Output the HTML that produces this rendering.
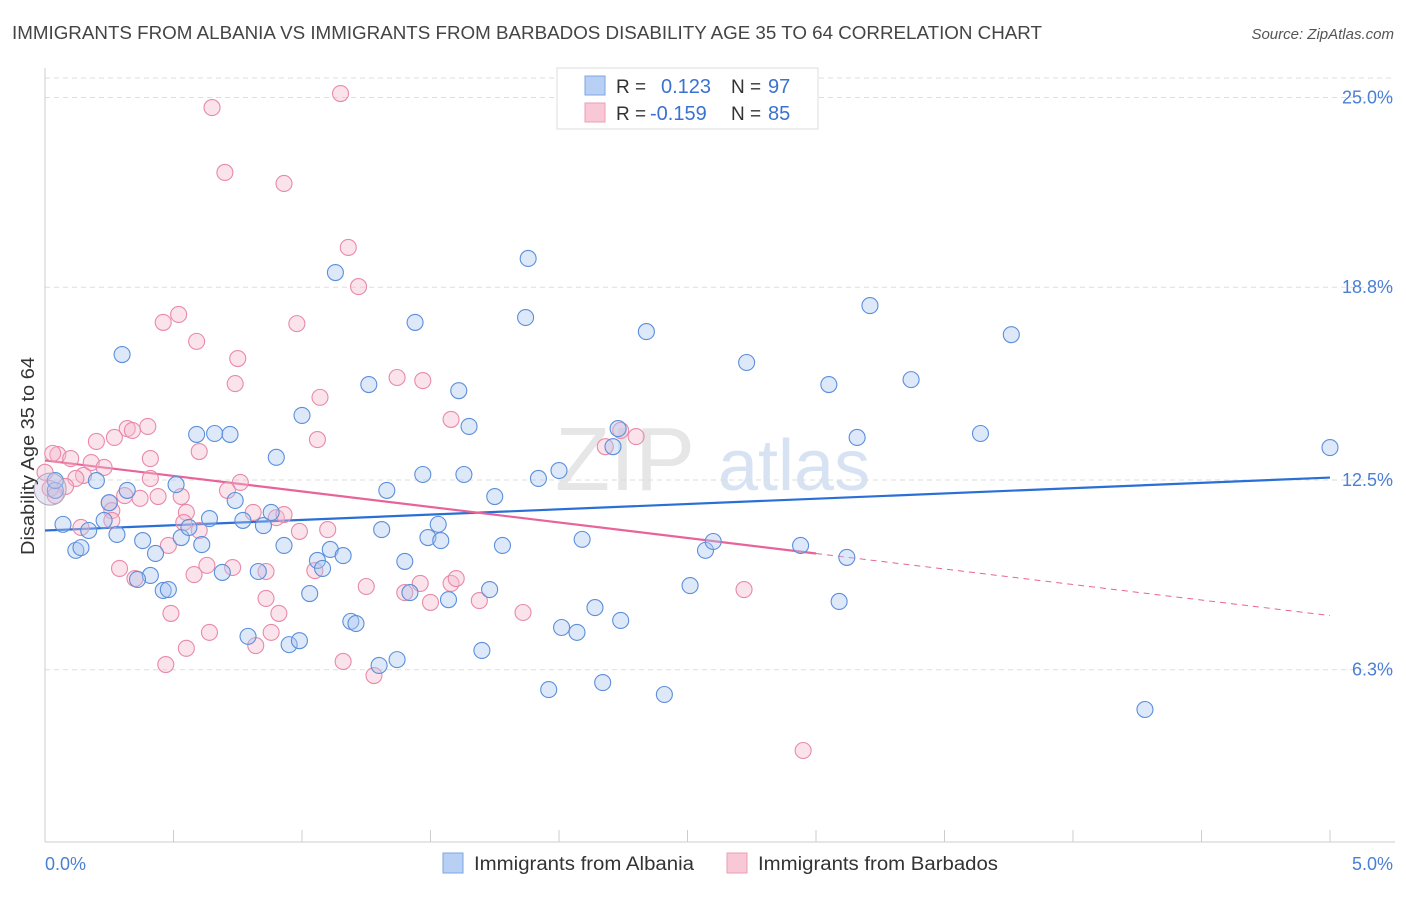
<!DOCTYPE html>
<html><head><meta charset="utf-8"><style>
body{margin:0;background:#fff;font-family:"Liberation Sans",sans-serif;}
svg text{font-family:"Liberation Sans",sans-serif;}
</style></head><body>
<svg id="chart" width="1406" height="892" xmlns="http://www.w3.org/2000/svg">
<text x="12" y="39" font-size="18" fill="#444" textLength="1030" lengthAdjust="spacingAndGlyphs">IMMIGRANTS FROM ALBANIA VS IMMIGRANTS FROM BARBADOS DISABILITY AGE 35 TO 64 CORRELATION CHART</text>
<text x="1394" y="39" font-size="15" fill="#555" text-anchor="end" font-style="italic">Source: ZipAtlas.com</text>
<text x="555" y="490" font-size="90" fill="#e6e6e6" font-family="Liberation Serif">ZIP</text>
<text x="718" y="490" font-size="72" fill="#d7e3f3">atlas</text>
<g id="grid"></g>
<g id="axes"></g>
<g id="lines"></g>
<g id="pts"></g>
<text transform="translate(34,456) rotate(-90)" font-size="18" fill="#333" text-anchor="middle" textLength="198" lengthAdjust="spacingAndGlyphs">Disability Age 35 to 64</text>
<text x="45" y="870" font-size="18" fill="#4a7fd4">0.0%</text>
<text x="1393" y="870" font-size="18" fill="#4a7fd4" text-anchor="end">5.0%</text>
<g>
<rect x="557" y="68" width="261" height="61" fill="#fff" stroke="#ddd"/>
<rect x="585" y="76" width="20" height="19" fill="#b8d0f4" stroke="#7ea6e4"/>
<rect x="585" y="103" width="20" height="19" fill="#f9c8d6" stroke="#ee9cb6"/>
<text x="616" y="93" font-size="19" fill="#333">R =</text>
<text x="661" y="93" font-size="20" fill="#3a72d2">0.123</text>
<text x="731" y="93" font-size="19" fill="#333">N =</text>
<text x="768" y="93" font-size="20" fill="#3a72d2">97</text>
<text x="616" y="120" font-size="19" fill="#333">R =</text>
<text x="650" y="120" font-size="20" fill="#3a72d2">-0.159</text>
<text x="731" y="120" font-size="19" fill="#333">N =</text>
<text x="768" y="120" font-size="20" fill="#3a72d2">85</text>
</g>
<g>
<rect x="443" y="853" width="20" height="20" fill="#b8d0f4" stroke="#7ea6e4"/>
<text x="474" y="870" font-size="19" fill="#333" textLength="220" lengthAdjust="spacingAndGlyphs">Immigrants from Albania</text>
<rect x="727" y="853" width="20" height="20" fill="#f9c8d6" stroke="#ee9cb6"/>
<text x="758" y="870" font-size="19" fill="#333" textLength="240" lengthAdjust="spacingAndGlyphs">Immigrants from Barbados</text>
</g>
</svg>
<script>
const yTicks=[25.0,18.8,12.5,6.3];
const yTickLabels=["25.0%","18.8%","12.5%","6.3%"];
const albaniaX=[.30,1.13,1.88,1.44,1.87,2.34,3.21,3.76,2.73,3.05,3.37,1.26,1.61,1.00,1.65,.59,.66,.72,2.23,2.21,3.16,3.64,5.00,.90,1.47,1.63,2.00,1.92,1.33,1.75,.74,.51,.32,.20,.25,.04,.04,.07,.17,.23,.28,.38,.53,.56,.64,.77,.85,.88,.93,.61,.43,.12,.14,.41,.36,.46,.48,.69,.83,1.03,1.06,1.08,1.11,1.16,1.31,1.40,1.42,1.49,1.53,1.54,1.57,1.73,1.78,2.09,2.57,2.60,2.94,3.12,2.51,2.14,2.24,2.01,2.07,1.19,1.21,.79,.95,.99,1.30,1.37,1.70,1.96,2.17,2.41,3.09,4.28];
const albaniaY=[16.60,19.28,19.74,17.65,17.81,17.35,18.20,17.25,16.34,15.62,15.78,15.62,15.42,14.61,14.25,13.99,14.02,13.99,14.18,13.59,13.89,14.02,13.56,13.24,12.68,12.68,12.81,12.55,12.16,11.96,11.83,12.35,12.16,12.48,11.76,12.16,12.48,11.05,10.85,11.18,10.72,10.52,10.62,10.95,11.24,11.18,11.01,11.44,10.36,10.39,10.10,10.20,10.29,9.38,9.25,8.89,8.92,9.48,9.51,8.79,9.87,9.61,10.23,10.03,10.88,9.84,8.82,10.62,11.05,10.52,8.59,8.92,10.36,10.56,10.20,10.49,10.36,9.97,9.05,8.33,7.91,7.68,7.52,7.88,7.81,7.39,7.12,7.25,6.44,6.63,6.93,5.65,5.88,5.49,8.53,5.00];
const barbadosX=[1.15,.65,.70,.93,1.18,1.22,.46,.52,.98,.59,.75,.74,1.07,1.37,1.47,1.58,1.06,.32,.40,.20,.27,.34,.60,.41,.05,.10,.18,.23,.15,.12,.08,.02,.04,.25,.31,.37,.44,.53,.55,.76,.71,.41,.26,.26,.14,.54,.60,.81,.90,.93,.99,1.10,.48,.29,.35,.58,.63,.73,.86,1.05,1.25,1.40,1.46,1.50,1.58,1.60,1.69,1.86,.86,.91,.49,.64,.88,.82,.55,.47,1.16,1.28,2.18,2.30,2.24,2.72,2.95,.03,.00];
const barbadosY=[25.13,24.67,22.55,22.19,20.10,18.82,17.65,17.91,17.61,17.03,16.47,15.65,15.20,15.85,15.75,14.48,13.82,14.18,14.25,13.76,13.89,14.12,13.43,13.20,13.33,13.20,13.07,12.91,12.65,12.55,12.29,12.22,11.99,11.76,11.99,11.90,11.96,11.96,11.44,12.42,12.16,12.55,11.50,11.18,10.95,11.11,10.85,11.44,11.27,11.37,10.82,10.88,10.36,9.61,9.28,9.41,9.71,9.64,9.51,9.54,9.02,8.82,9.12,8.50,9.12,9.28,8.56,8.17,8.63,8.14,8.14,7.52,7.52,7.09,7.00,6.47,6.57,6.11,13.59,13.92,14.12,8.92,3.66,13.37,12.75];
const albaniaTrend=[10.85,12.58];
const barbadosTrend=[13.14,8.07];
const barbadosSolidEnd=3.0;
const NS="http://www.w3.org/2000/svg";
const X=v=>45+v*257;
const Y=v=>97.5+(25-v)*30.6;
function mk(tag,attrs,parent){const e=document.createElementNS(NS,tag);for(const k in attrs)e.setAttribute(k,attrs[k]);document.getElementById(parent).appendChild(e);return e;}
const g=mk('line',{x1:45,x2:1395,y1:78,y2:78,stroke:'#ddd','stroke-dasharray':'5,4'},'grid');


yTicks.forEach((t,i)=>{
 const l=mk('line',{x1:45,x2:1395,y1:Y(t),y2:Y(t),stroke:'#ddd','stroke-dasharray':'5,4'},'grid');
 
 
 const tx=mk('text',{x:1393,y:Y(t)+6,'font-size':18,fill:'#4a7fd4','text-anchor':'end'},'grid');
 tx.textContent=yTickLabels[i];
 
 
});
const ax=mk('line',{x1:45,x2:45,y1:68,y2:842,stroke:'#ccc'},'axes');


const bx=mk('line',{x1:45,x2:1395,y1:842,y2:842,stroke:'#ccc'},'axes');


for(let i=0;i<=10;i++){
 const t=mk('line',{x1:X(i*0.5),x2:X(i*0.5),y1:830,y2:842,stroke:'#ccc'},'axes');
 
 
}
function dots(xs,ys,fill,stroke,name){
 xs.forEach((x,i)=>{
  const c=mk('circle',{cx:X(x),cy:Y(ys[i]),r:8,fill:fill,'fill-opacity':0.4,stroke:stroke,'stroke-width':1.1},'pts');
  
  
 });
}
dots(barbadosX,barbadosY,'#f6b9cc','#e88aa8','barbados-point');
dots(albaniaX,albaniaY,'#a9c6f0','#5b8fdc','albania-point');
const big=mk('circle',{cx:X(0.02),cy:Y(12.2),r:16,fill:'#c9c4e0','fill-opacity':0.4,stroke:'#aab'},'pts');


const l1=mk('line',{x1:X(0),y1:Y(albaniaTrend[0]),x2:X(5),y2:Y(albaniaTrend[1]),stroke:'#2a6fd6','stroke-width':2.2},'lines');


const pb=x=>barbadosTrend[0]+(barbadosTrend[1]-barbadosTrend[0])*x/5;
const l2=mk('line',{x1:X(0),y1:Y(pb(0)),x2:X(barbadosSolidEnd),y2:Y(pb(barbadosSolidEnd)),stroke:'#e8639a','stroke-width':2.2},'lines');


const l3=mk('line',{x1:X(barbadosSolidEnd),y1:Y(pb(barbadosSolidEnd)),x2:X(5),y2:Y(pb(5)),stroke:'#e8639a','stroke-width':1,'stroke-dasharray':'6,5'},'lines');


</script>
</body></html>
